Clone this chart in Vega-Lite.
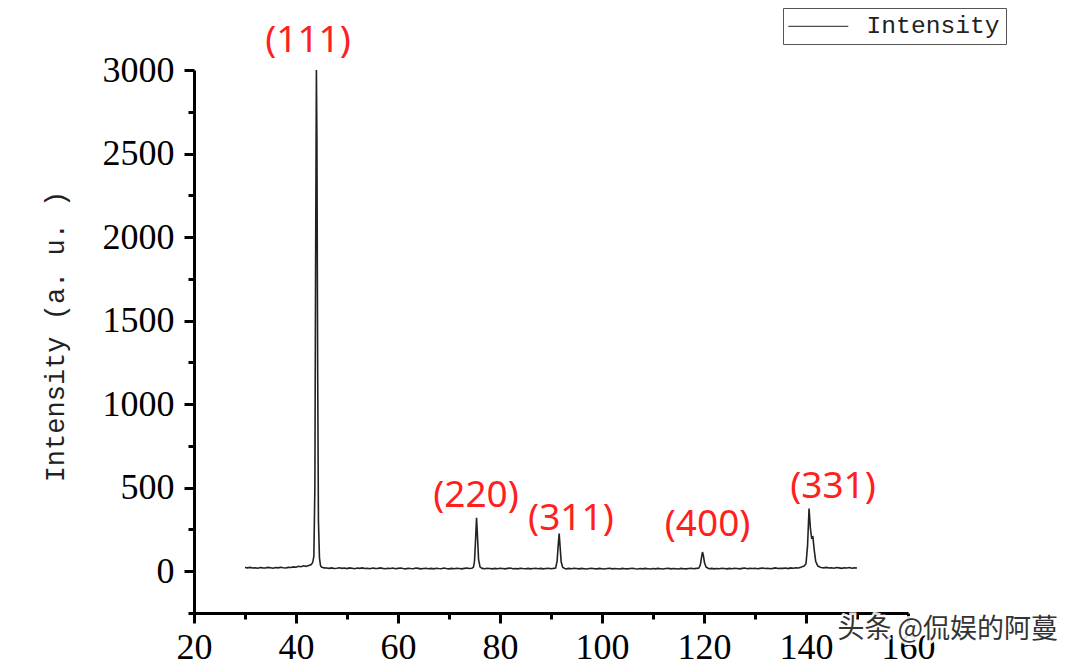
{
  "$schema": "https://vega.github.io/schema/vega-lite/v6.json",
  "autosize": {"type": "none"},
  "width": 714,
  "height": 543,
  "padding": {"left": 194, "top": 70, "right": 171, "bottom": 53},
  "background": "white",
  "config": {"view": {"stroke": null}},
  "datasets": {
    "xrd": [
      {"t":30,"i":22},{"t":30.5,"i":20},{"t":31,"i":23},{"t":31.5,"i":19},{"t":32,"i":21},{"t":32.5,"i":18},{"t":33,"i":22},{"t":33.5,"i":20},{"t":34,"i":19},{"t":34.5,"i":23},{"t":35,"i":21},{"t":35.5,"i":18},{"t":36,"i":22},{"t":36.5,"i":20},{"t":37,"i":24},{"t":37.5,"i":21},{"t":38,"i":19},{"t":38.5,"i":23},{"t":39,"i":22},{"t":39.5,"i":26},{"t":40,"i":24},{"t":40.5,"i":30},{"t":41,"i":27},{"t":41.5,"i":33},{"t":42,"i":29},{"t":42.5,"i":35},{"t":43,"i":40},{"t":43.3,"i":55},{"t":43.5,"i":90},{"t":43.7,"i":500},{"t":43.85,"i":1900},{"t":44.0,"i":3000},{"t":44.1,"i":2600},{"t":44.25,"i":1200},{"t":44.4,"i":300},{"t":44.6,"i":80},{"t":44.8,"i":35},{"t":45,"i":25},{"t":45.5,"i":20},
      {"t":46,"i":19},{"t":46.5,"i":17},{"t":47,"i":20},{"t":47.5,"i":16},{"t":48,"i":18},{"t":48.5,"i":21},{"t":49,"i":17},{"t":49.5,"i":19},{"t":50,"i":16},{"t":50.5,"i":20},{"t":51,"i":18},{"t":51.5,"i":15},{"t":52,"i":19},{"t":52.5,"i":17},{"t":53,"i":20},{"t":53.5,"i":16},{"t":54,"i":18},{"t":54.5,"i":15},{"t":55,"i":19},{"t":55.5,"i":17},{"t":56,"i":16},{"t":56.5,"i":20},{"t":57,"i":17},{"t":57.5,"i":15},{"t":58,"i":18},{"t":58.5,"i":16},{"t":59,"i":19},{"t":59.5,"i":15},{"t":60,"i":17},{"t":60.5,"i":19},{"t":61,"i":16},{"t":61.5,"i":14},{"t":62,"i":18},{"t":62.5,"i":16},{"t":63,"i":15},{"t":63.5,"i":19},{"t":64,"i":17},{"t":64.5,"i":14},{"t":65,"i":16},{"t":65.5,"i":18},{"t":66,"i":15},{"t":66.5,"i":17},{"t":67,"i":14},{"t":67.5,"i":18},{"t":68,"i":16},{"t":68.5,"i":15},{"t":69,"i":19},{"t":69.5,"i":16},{"t":70,"i":14},{"t":70.5,"i":17},{"t":71,"i":15},{"t":71.5,"i":18},{"t":72,"i":16},{"t":72.5,"i":14},{"t":73,"i":17},{"t":73.5,"i":19},{"t":74,"i":16},{"t":74.5,"i":18},
      {"t":74.8,"i":25},{"t":75.0,"i":60},{"t":75.2,"i":180},{"t":75.4,"i":320},{"t":75.6,"i":200},{"t":75.8,"i":70},{"t":76.1,"i":25},{"t":76.5,"i":17},{"t":77,"i":15},{"t":77.5,"i":18},{"t":78,"i":16},{"t":78.5,"i":14},{"t":79,"i":17},{"t":79.5,"i":15},{"t":80,"i":18},{"t":80.5,"i":16},{"t":81,"i":14},{"t":81.5,"i":17},{"t":82,"i":19},{"t":82.5,"i":15},{"t":83,"i":16},{"t":83.5,"i":14},{"t":84,"i":18},{"t":84.5,"i":16},{"t":85,"i":15},{"t":85.5,"i":17},{"t":86,"i":14},{"t":86.5,"i":16},{"t":87,"i":18},{"t":87.5,"i":15},{"t":88,"i":17},{"t":88.5,"i":14},{"t":89,"i":16},{"t":89.5,"i":18},{"t":90,"i":15},{"t":90.5,"i":17},
      {"t":90.9,"i":19},{"t":91.2,"i":60},{"t":91.4,"i":150},{"t":91.6,"i":225},{"t":91.8,"i":140},{"t":92.0,"i":55},{"t":92.3,"i":22},{"t":92.7,"i":16},{"t":93,"i":14},{"t":93.5,"i":17},{"t":94,"i":15},{"t":94.5,"i":18},{"t":95,"i":16},{"t":95.5,"i":14},{"t":96,"i":17},{"t":96.5,"i":15},{"t":97,"i":13},{"t":97.5,"i":16},{"t":98,"i":18},{"t":98.5,"i":15},{"t":99,"i":14},{"t":99.5,"i":17},{"t":100,"i":15},{"t":100.5,"i":13},{"t":101,"i":16},{"t":101.5,"i":18},{"t":102,"i":14},{"t":102.5,"i":16},{"t":103,"i":15},{"t":103.5,"i":13},{"t":104,"i":17},{"t":104.5,"i":15},{"t":105,"i":14},{"t":105.5,"i":16},{"t":106,"i":18},{"t":106.5,"i":15},{"t":107,"i":13},{"t":107.5,"i":16},{"t":108,"i":14},{"t":108.5,"i":17},{"t":109,"i":15},{"t":109.5,"i":13},{"t":110,"i":16},{"t":110.5,"i":14},{"t":111,"i":17},{"t":111.5,"i":15},{"t":112,"i":13},{"t":112.5,"i":16},{"t":113,"i":18},{"t":113.5,"i":14},{"t":114,"i":16},{"t":114.5,"i":15},{"t":115,"i":13},{"t":115.5,"i":17},{"t":116,"i":15},{"t":116.5,"i":14},{"t":117,"i":16},{"t":117.5,"i":18},{"t":118,"i":15},{"t":118.5,"i":17},
      {"t":119,"i":19},{"t":119.3,"i":40},{"t":119.5,"i":80},{"t":119.7,"i":115},{"t":119.9,"i":90},{"t":120.1,"i":50},{"t":120.4,"i":25},{"t":120.8,"i":18},{"t":121,"i":15},{"t":121.5,"i":17},{"t":122,"i":14},{"t":122.5,"i":16},{"t":123,"i":15},{"t":123.5,"i":18},{"t":124,"i":16},{"t":124.5,"i":14},{"t":125,"i":17},{"t":125.5,"i":15},{"t":126,"i":18},{"t":126.5,"i":16},{"t":127,"i":14},{"t":127.5,"i":17},{"t":128,"i":19},{"t":128.5,"i":15},{"t":129,"i":17},{"t":129.5,"i":16},{"t":130,"i":18},{"t":130.5,"i":15},{"t":131,"i":17},{"t":131.5,"i":19},{"t":132,"i":16},{"t":132.5,"i":18},{"t":133,"i":15},{"t":133.5,"i":17},{"t":134,"i":20},{"t":134.5,"i":16},{"t":135,"i":18},{"t":135.5,"i":17},{"t":136,"i":19},{"t":136.5,"i":16},{"t":137,"i":20},{"t":137.5,"i":18},{"t":138,"i":21},{"t":138.5,"i":19},{"t":139,"i":24},{"t":139.3,"i":28},{"t":139.6,"i":30},
      {"t":140.0,"i":45},{"t":140.3,"i":150},{"t":140.6,"i":375},{"t":140.85,"i":260},{"t":141.1,"i":200},{"t":141.35,"i":205},{"t":141.6,"i":130},{"t":141.9,"i":60},{"t":142.3,"i":32},{"t":142.8,"i":24},{"t":143,"i":22},{"t":143.5,"i":20},{"t":144,"i":23},{"t":144.5,"i":19},{"t":145,"i":21},{"t":145.5,"i":18},{"t":146,"i":22},{"t":146.5,"i":20},{"t":147,"i":17},{"t":147.5,"i":21},{"t":148,"i":19},{"t":148.5,"i":22},{"t":149,"i":18},{"t":149.5,"i":20},{"t":150,"i":19}
    ],
    "labels": [
      {"t":42.35,"i":3175,"label":"(111)"},
      {"t":75.3,"i":450,"label":"(220)"},
      {"t":93.9,"i":312,"label":"(311)"},
      {"t":120.7,"i":277,"label":"(400)"},
      {"t":145.3,"i":504,"label":"(331)"}
    ],
    "mark": [
      {"t":167.8,"i":-352,"label":"头条 @侃娱的阿蔓"}
    ]
  },
  "layer": [
    {
      "data": {"name": "xrd"},
      "mark": {"type": "line", "strokeWidth": 1.6, "interpolate": "linear"},
      "encoding": {
        "x": {
          "field": "t", "type": "quantitative",
          "scale": {"domain": [20, 160], "nice": false, "zero": false},
          "axis": {
            "title": null, "grid": false, "values": [20, 40, 60, 80, 100, 120, 140, 160], "format": "d",
            "domainColor": "black", "domainWidth": 3, "tickColor": "black", "tickWidth": 3, "tickSize": 10,
            "labelFont": "Liberation Serif", "labelFontSize": 36, "labelColor": "black", "labelPadding": 7,
            "labelFlush": false, "labelOverlap": false
          }
        },
        "y": {
          "field": "i", "type": "quantitative",
          "scale": {"domain": [-250, 3000], "nice": false, "zero": false},
          "axis": {
            "title": "Intensity (a. u. )", "grid": false, "values": [0, 500, 1000, 1500, 2000, 2500, 3000], "format": "d",
            "domainColor": "black", "domainWidth": 3, "tickColor": "black", "tickWidth": 3, "tickSize": 10,
            "labelFont": "Liberation Serif", "labelFontSize": 36, "labelColor": "black", "labelPadding": 10,
            "labelFlush": false, "labelOverlap": false,
            "titleFont": "Liberation Mono", "titleFontSize": 27, "titleFontWeight": "normal", "titleColor": "#222",
            "titleX": -139, "titleY": 266, "titleAngle": 270, "titleAlign": "center", "titleBaseline": "middle"
          }
        },
        "color": {
          "datum": "Intensity",
          "scale": {"range": ["#222222"]},
          "legend": {
            "title": null, "orient": "none", "legendX": 589, "legendY": -62,
            "strokeColor": "#555555", "fillColor": "white", "padding": 6, "cornerRadius": 0,
            "symbolType": "M-1.3,0H4.7", "symbolSize": 400, "symbolStrokeWidth": 1, "symbolStrokeColor": "#222", "symbolFillColor": "transparent",
            "labelFont": "Liberation Mono", "labelFontSize": 24.6, "labelColor": "#222", "labelOffset": 53
          }
        }
      }
    },
    {
      "data": {"name": "xrd"},
      "mark": {"type": "line", "strokeOpacity": 0},
      "encoding": {
        "x": {
          "field": "t", "type": "quantitative",
          "axis": {
            "orient": "bottom", "title": null, "grid": false, "domain": false, "labels": false,
            "values": [30, 50, 70, 90, 110, 130, 150],
            "tickColor": "black", "tickWidth": 3, "tickSize": 6
          }
        },
        "y": {
          "field": "i", "type": "quantitative",
          "axis": {
            "orient": "left", "title": null, "grid": false, "domain": false, "labels": false,
            "values": [-250, 250, 750, 1250, 1750, 2250, 2750],
            "tickColor": "black", "tickWidth": 3, "tickSize": 6
          }
        }
      }
    },
    {
      "data": {"name": "labels"},
      "mark": {"type": "text", "font": "Noto Sans", "fontSize": 37, "color": "#ff1f1f", "align": "center", "baseline": "middle"},
      "encoding": {
        "x": {"field": "t", "type": "quantitative", "axis": null},
        "y": {"field": "i", "type": "quantitative", "axis": null},
        "text": {"field": "label"}
      }
    },
    {
      "data": {"name": "mark"},
      "mark": {"type": "text", "font": "Noto Sans CJK SC", "fontSize": 27, "stroke": "white", "strokeWidth": 5, "strokeOpacity": 0.9, "fill": "white", "align": "center", "baseline": "middle"},
      "encoding": {
        "x": {"field": "t", "type": "quantitative", "axis": null},
        "y": {"field": "i", "type": "quantitative", "axis": null},
        "text": {"field": "label"}
      }
    },
    {
      "data": {"name": "mark"},
      "mark": {"type": "text", "font": "Noto Sans CJK SC", "fontSize": 27, "fill": "#333333", "align": "center", "baseline": "middle"},
      "encoding": {
        "x": {"field": "t", "type": "quantitative", "axis": null},
        "y": {"field": "i", "type": "quantitative", "axis": null},
        "text": {"field": "label"}
      }
    }
  ],
  "resolve": {"axis": {"x": "independent", "y": "independent"}}
}
